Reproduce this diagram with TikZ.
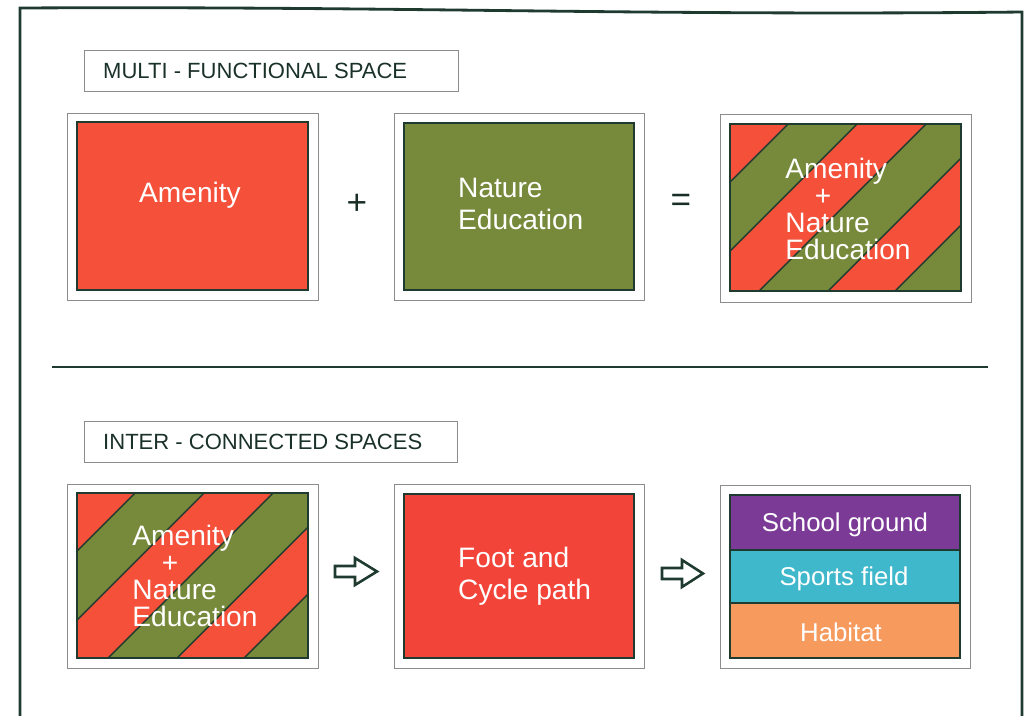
\documentclass[tikz,border=0pt]{standalone}
\usepackage{fontspec}
\setmainfont{Liberation Sans}
\usepackage{xcolor}
\usepackage{tikz}

\definecolor{amenred}{HTML}{F5513A}
\definecolor{natgreen}{HTML}{778A3B}
\definecolor{pathred}{HTML}{F3443A}
\definecolor{edgegreen}{HTML}{1F3A2F}
\definecolor{schoolpurple}{HTML}{7B3A96}
\definecolor{sportscyan}{HTML}{40B8CC}
\definecolor{habitatorange}{HTML}{F69A5D}

\tikzset{
  pageframe/.style={draw=edgegreen, line width=2.4pt},
  outerbox/.style={draw=black!45, line width=0.8pt, fill=white},
  innerbox/.style={draw=edgegreen, line width=2.4pt},
  headbox/.style={draw=black!45, line width=0.8pt},
  headtext/.style={text=edgegreen!85!black, font=\fontsize{18.8}{22}\selectfont, anchor=west, inner sep=0pt},
  boxtext/.style={text=white, font=\fontsize{24}{27}\selectfont, align=left, inner sep=0pt},
  striptext/.style={text=white, font=\fontsize{24}{23}\selectfont, align=left, inner sep=0pt},
  bandtext/.style={text=white, font=\fontsize{22}{26}\selectfont, inner sep=0pt},
  signtext/.style={text=edgegreen!80!black, font=\fontsize{30}{30}\selectfont, inner sep=0pt},
  blockarrow/.style={draw=edgegreen, line width=2.2pt, fill=white, line join=miter}
}

% red/green diagonal bands inside a box: #1,#2 top left, #3,#4 bottom right
\newcommand{\mixbox}[4]{
  \begin{scope}
    \clip (#1,#2) rectangle (#3,#4);
    \fill[amenred] (#1,#2) rectangle (#3,#4);
    \foreach \a/\b in {58/127, 196/265, 332/600}
      \fill[natgreen] (#1+\a,#2) -- (#1+\b,#2) -- (#1+\b-400,#2+400) -- (#1+\a-400,#2+400) -- cycle;
    \foreach \c in {58, 127, 196, 265, 332}
      \draw[edgegreen, line width=1.2pt] (#1+\c,#2) -- (#1+\c-400,#2+400);
  \end{scope}
  \draw[innerbox] (#1,#2) rectangle (#3,#4);
}

\begin{document}
\begin{tikzpicture}[x=0.03cm, y=-0.03cm]
  \useasboundingbox (0,0) rectangle (1029,715);

  \draw[pageframe] (20,716) -- (20,8) .. controls (400,6) and (640,16) .. (1022,12) -- (1022,716);

  % first row
  \draw[headbox] (84,50) rectangle (458,91);
  \node[headtext] (multi) at (103,71) {MULTI - FUNCTIONAL SPACE};

  \foreach \x/\y/\u/\v in {67/113/318/300, 394/113/644/300, 720/114/971/302}
    \draw[outerbox] (\x,\y) rectangle (\u,\v);

  \fill[amenred] (77,122) rectangle (308,290);
  \draw[innerbox] (77,122) rectangle (308,290);
  \node[boxtext] (amenity) at (190,195) {Amenity};

  \fill[natgreen] (404,123) rectangle (634,290);
  \draw[innerbox] (404,123) rectangle (634,290);
  \node[boxtext, anchor=west] (nature) at (458,204) {Nature\\Education};

  \mixbox{730}{124}{961}{291}
  \node[striptext] (mixone) at (848,209) {Amenity\\\hspace*{25pt}+\\Nature\\Education};

  \node[signtext] (plus) at (357,204) {+};
  \node[signtext] (equals) at (681,203) {=};

  \draw[edgegreen, line width=2.4pt] (52,367) -- (988,367);

  % second row
  \draw[headbox] (84,421) rectangle (457,462);
  \node[headtext] (inter) at (103,442) {INTER - CONNECTED SPACES};

  \foreach \x/\y/\u/\v in {67/484/318/668, 394/484/644/668, 720/485/970/668}
    \draw[outerbox] (\x,\y) rectangle (\u,\v);

  \mixbox{77}{493}{308}{658}
  \node[striptext] (mixtwo) at (195,576) {Amenity\\\hspace*{25pt}+\\Nature\\Education};

  \fill[pathred] (404,494) rectangle (634,658);
  \draw[innerbox] (404,494) rectangle (634,658);
  \node[boxtext, anchor=west] (path) at (458,576) {Foot and\\Cycle path};

  \fill[schoolpurple] (730,495) rectangle (960,550);
  \fill[sportscyan] (730,550) rectangle (960,603);
  \fill[habitatorange] (730,603) rectangle (960,658);
  \draw[edgegreen, line width=2pt] (730,550) -- (960,550) (730,603) -- (960,603);
  \draw[innerbox] (730,495) rectangle (960,658);
  \node[bandtext] (school) at (845,525) {School ground};
  \node[bandtext] (sports) at (844,579) {Sports field};
  \node[bandtext] (habitat) at (841,632) {Habitat};

  \foreach \ax/\ay/\sh/\hd in {335/571.5/20/22, 662/573.5/20/21}
    \draw[blockarrow] (\ax,\ay-5.5) -- ++(\sh,0) -- ++(0,-8) -- ++(\hd,13.5) -- ++(-\hd,13.5) -- ++(0,-8) -- ++(-\sh,0) -- cycle;
\end{tikzpicture}
\end{document}
